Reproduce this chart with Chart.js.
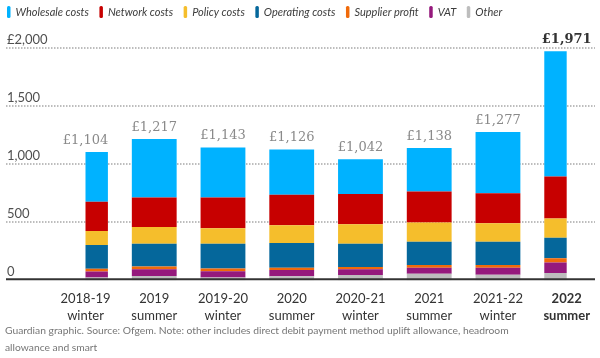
<!DOCTYPE html>
<html>
<head>
<meta charset="utf-8">
<script src="https://cdn.jsdelivr.net/npm/chart.js@4.4.1/dist/chart.umd.min.js"></script>
<style>
  html, body { margin: 0; padding: 0; background: #fff; }
  #wrap { width: 600px; height: 358px; }
</style>
</head>
<body>
<div id="wrap"><canvas id="costs"></canvas></div>
<script>
// price cap periods and the typical bill, split by component (£)
const periods = [['2018-19', 'winter'], ['2019', 'summer'], ['2019-20', 'winter'], ['2020', 'summer'],
                 ['2020-21', 'winter'], ['2021', 'summer'], ['2021-22', 'winter'], ['2022', 'summer']];
const totals = [1104, 1217, 1143, 1126, 1042, 1138, 1277, 1971];
const wholesale = [429, 504, 430, 390, 300, 373, 527, 1077];
const network = [251, 254, 266, 263, 260, 269, 259, 363];
const policy = [121, 145, 133, 153, 168, 164, 159, 165];
const operating = [205, 195, 213, 213, 201, 202, 202, 178];
const supplierProfit = [22, 25, 23, 20, 18, 23, 23, 35];
const vat = [52, 58, 54, 54, 50, 52, 61, 92];
const other = [24, 36, 24, 33, 45, 55, 46, 61];
const yTicks = [0, 500, 1000, 1500, 2000];
const footnote = ['Guardian graphic. Source: Ofgem. Note: other includes direct debit payment method uplift allowance, headroom',
                  'allowance and smart'];

const fontFamily = 'Lato, "Open Sans", sans-serif';
const last = periods.length - 1;

// bottom of the stack first
const series = [
  {label: 'Other', data: other, backgroundColor: '#bdbdbd'},
  {label: 'VAT', data: vat, backgroundColor: '#95197c'},
  {label: 'Supplier profit', data: supplierProfit, backgroundColor: '#f06a0a'},
  {label: 'Operating costs', data: operating, backgroundColor: '#05679b'},
  {label: 'Policy costs', data: policy, backgroundColor: '#f5be2c'},
  {label: 'Network costs', data: network, backgroundColor: '#c70000'},
  {label: 'Wholesale costs', data: wholesale, backgroundColor: '#00b2ff'}
];

const decor = {
  id: 'decor',
  beforeDatasetsDraw(chart) {
    const {ctx, scales: {y}} = chart;
    ctx.save();
    ctx.strokeStyle = '#a8a8a8';
    ctx.lineWidth = 1.5;
    ctx.setLineDash([1.5, 1.5]);
    yTicks.forEach(v => {
      if (v === 0) return;
      const py = Math.round(y.getPixelForValue(v));
      ctx.beginPath();
      ctx.moveTo(6, py);
      ctx.lineTo(595, py);
      ctx.stroke();
    });
    ctx.setLineDash([]);
    ctx.fillStyle = '#505050';
    ctx.font = '13px ' + fontFamily;
    ctx.textAlign = 'left';
    ctx.textBaseline = 'alphabetic';
    yTicks.forEach((v, i) => {
      const txt = (i === yTicks.length - 1 ? '£' : '') + v.toLocaleString('en-GB');
      ctx.fillText(txt, 7, y.getPixelForValue(v) - 4.5);
    });
    ctx.restore();
  },
  afterDatasetsDraw(chart) {
    const {ctx, scales: {y}} = chart;
    ctx.save();
    // baseline
    ctx.strokeStyle = '#333';
    ctx.lineWidth = 2;
    ctx.beginPath();
    ctx.moveTo(6, y.getPixelForValue(0) - 1);
    ctx.lineTo(595, y.getPixelForValue(0) - 1);
    ctx.stroke();
    // totals above bars
    const topMeta = chart.getDatasetMeta(series.length - 1);
    ctx.textAlign = 'center';
    ctx.textBaseline = 'alphabetic';
    totals.forEach((t, i) => {
      ctx.font = (i === last ? 'bold ' : '') + '13px "DejaVu Serif", serif';
      ctx.fillStyle = i === last ? '#333' : '#8a8a8a';
      ctx.fillText('£' + t.toLocaleString('en-GB'), topMeta.data[i].x, y.getPixelForValue(t) - 8);
    });
    ctx.restore();
  },
  afterDraw(chart) {
    const {ctx} = chart;
    ctx.save();
    // legend, in reading order (top of stack first)
    ctx.font = 'italic 11px ' + fontFamily;
    ctx.textBaseline = 'middle';
    ctx.textAlign = 'left';
    let x = 7;
    series.slice().reverse().forEach(s => {
      ctx.fillStyle = s.backgroundColor;
      ctx.beginPath();
      ctx.roundRect(x, 6, 3.5, 12, 1.5);
      ctx.fill();
      ctx.fillStyle = '#3c3c3c';
      ctx.fillText(s.label, x + 8.5, 12);
      x += 8.5 + ctx.measureText(s.label).width + 10.5;
    });
    // footnote
    ctx.font = '10.3px ' + fontFamily;
    ctx.fillStyle = '#767676';
    footnote.forEach((line, i) => ctx.fillText(line, 5, 331 + i * 17));
    ctx.restore();
  }
};

new Chart(document.getElementById('costs'), {
  type: 'bar',
  data: {
    labels: periods,
    datasets: series.map(s => ({...s, borderWidth: 0, categoryPercentage: 1, barPercentage: 0.652}))
  },
  options: {
    responsive: true,
    maintainAspectRatio: false,
    animation: false,
    layout: {padding: {top: 48, left: 85.5, right: 31.5, bottom: 24}},
    plugins: {legend: {display: false}, tooltip: {enabled: false}},
    scales: {
      x: {
        stacked: true,
        offset: false,
        grid: {display: false, drawTicks: false},
        border: {display: false},
        ticks: {
          padding: 10,
          maxRotation: 0,
          autoSkip: false,
          color: '#333',
          font: ctx => ({family: fontFamily, size: 13, lineHeight: 1.3, weight: ctx.index === last ? 'bold' : 'normal'})
        }
      },
      y: {
        stacked: true,
        display: false,
        min: 0,
        max: 2000
      }
    }
  },
  plugins: [decor]
});
</script>
</body>
</html>
